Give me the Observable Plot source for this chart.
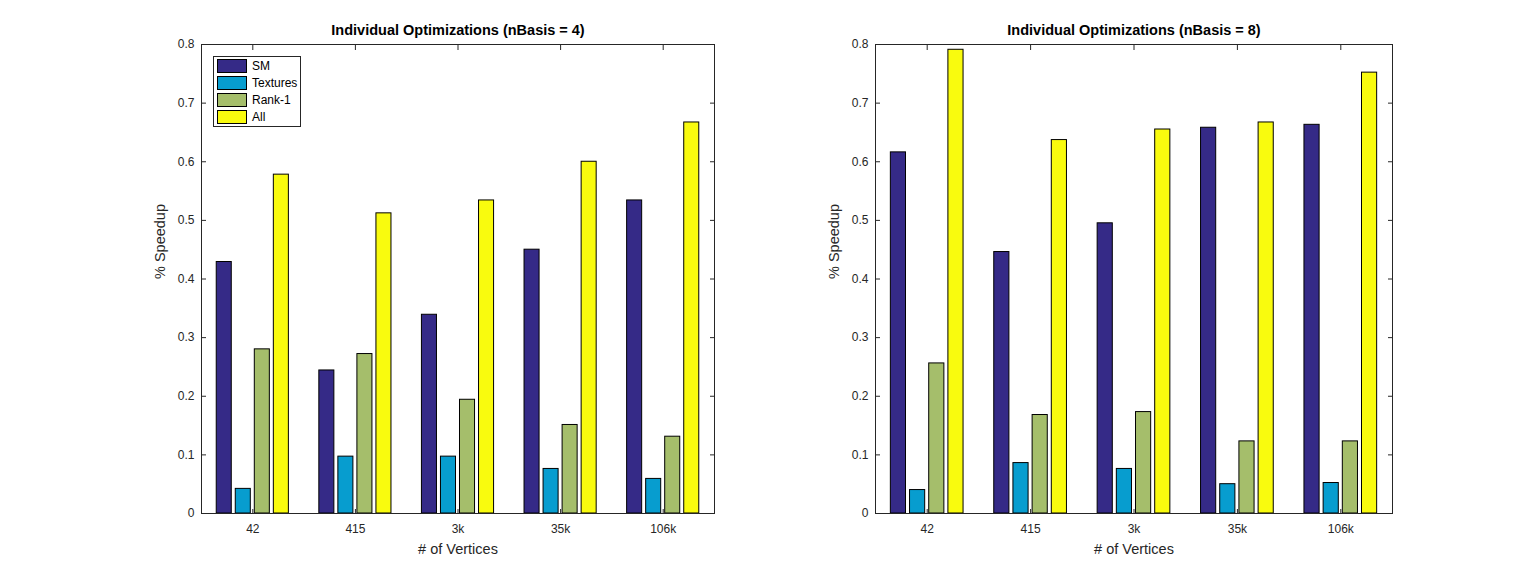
<!DOCTYPE html>
<html><head><meta charset="utf-8">
<script src="https://cdn.jsdelivr.net/npm/d3@7"></script>
<script src="https://cdn.jsdelivr.net/npm/@observablehq/plot@0.6"></script>
<style>
body{margin:0;background:#fff;font-family:"Liberation Sans",Arial,Helvetica,sans-serif;}
#wrap{position:relative;width:1538px;height:577px;overflow:hidden;}
.panel{position:absolute;top:0;width:769px;height:577px;}
.legend{position:absolute;background:#fff;border:1px solid #262626;box-sizing:border-box;}
.legend .row{position:absolute;left:3px;height:14px;display:flex;align-items:center;font-size:12px;color:#000;}
.legend .sw{width:28px;height:12px;border:1px solid #000;margin-right:5px;}
</style>
</head><body>
<div id="wrap"></div>
<script>
// categories and series
const groups = ["42", "415", "3k", "35k", "106k"];
const series = ["SM", "Textures", "Rank-1", "All"];
const colors = ["#352a87", "#079dcf", "#a5be6b", "#f9fb0e"];
const yTicks = [0, 0.1, 0.2, 0.3, 0.4, 0.5, 0.6, 0.7, 0.8];

// nBasis = 4
const sm4       = [0.429, 0.244, 0.339, 0.450, 0.534];
const textures4 = [0.042, 0.097, 0.097, 0.076, 0.059];
const rank1_4   = [0.280, 0.272, 0.194, 0.151, 0.131];
const all4      = [0.578, 0.512, 0.534, 0.600, 0.667];

// nBasis = 8
const sm8       = [0.616, 0.446, 0.495, 0.658, 0.663];
const textures8 = [0.040, 0.086, 0.076, 0.050, 0.052];
const rank1_8   = [0.256, 0.168, 0.173, 0.123, 0.123];
const all8      = [0.791, 0.637, 0.655, 0.667, 0.752];

function rowsOf(arrs) {
  const out = [];
  groups.forEach((g, i) => series.forEach((s, j) => out.push({group: g, series: s, value: arrs[j][i]})));
  return out;
}

const fmt = d => d === 0 ? "0" : d3.format(".1f")(d);
const ink = "#262626";

function chart(rows, title, mL, mR) {
  return Plot.plot({
    width: 769, height: 577,
    marginLeft: mL, marginRight: mR, marginTop: 44, marginBottom: 64,
    style: {fontFamily: "'Liberation Sans', Arial, sans-serif", fontSize: "12px", color: ink, background: "transparent", overflow: "visible"},
    fx: {domain: groups, padding: 0, round: false},
    x: {domain: series, paddingInner: 0.21, paddingOuter: 0.8, round: false, axis: null},
    y: {domain: [0, 0.8]},
    color: {domain: series, range: colors},
    marks: [
      Plot.barY(rows, {fx: "group", x: "series", y: "value", fill: "series", stroke: "#000", strokeWidth: 1}),
      Plot.axisY(yTicks, {anchor: "left", tickSize: -5, tickPadding: 12, tickFormat: fmt, label: null, stroke: ink, fill: ink}),
      Plot.axisY(yTicks, {anchor: "right", tickSize: -5, tickFormat: () => "", label: null, stroke: ink}),
      Plot.axisFx({anchor: "bottom", tickSize: -4, tickPadding: 15, label: null, stroke: ink, fill: ink}),
      Plot.axisFx({anchor: "top", tickSize: -5, tickFormat: () => "", label: null, stroke: ink}),
      Plot.frame({facet: "super", stroke: ink, strokeWidth: 1}),
      Plot.text([title], {facet: "super", text: d => d, frameAnchor: "top", dy: -20, fontWeight: "bold", fontSize: 14.5, fill: "#000"}),
      Plot.text(["# of Vertices"], {facet: "super", text: d => d, frameAnchor: "bottom", dy: 40, fontSize: 14.5, fill: ink}),
      Plot.text(["% Speedup"], {facet: "super", text: d => d, frameAnchor: "left", dx: -41, rotate: -90, fontSize: 14.5, fill: ink})
    ]
  });
}

const wrap = document.getElementById("wrap");
const p1 = document.createElement("div"); p1.className = "panel"; p1.style.left = "0px";
const p2 = document.createElement("div"); p2.className = "panel"; p2.style.left = "769px";
p1.appendChild(chart(rowsOf([sm4, textures4, rank1_4, all4]), "Individual Optimizations (nBasis = 4)", 201, 55));
p2.appendChild(chart(rowsOf([sm8, textures8, rank1_8, all8]), "Individual Optimizations (nBasis = 8)", 106, 146));
wrap.appendChild(p1); wrap.appendChild(p2);

// legend (left panel)
const lg = document.createElement("div");
lg.className = "legend";
Object.assign(lg.style, {left: "213px", top: "56px", width: "88px", height: "71px"});
series.forEach((s, i) => {
  const r = document.createElement("div");
  r.className = "row";
  r.style.top = (2 + i * 16.9) + "px";
  const sw = document.createElement("div");
  sw.className = "sw";
  sw.style.background = colors[i];
  const t = document.createElement("span");
  t.textContent = s;
  r.appendChild(sw); r.appendChild(t);
  lg.appendChild(r);
});
wrap.appendChild(lg);
</script>
</body></html>
